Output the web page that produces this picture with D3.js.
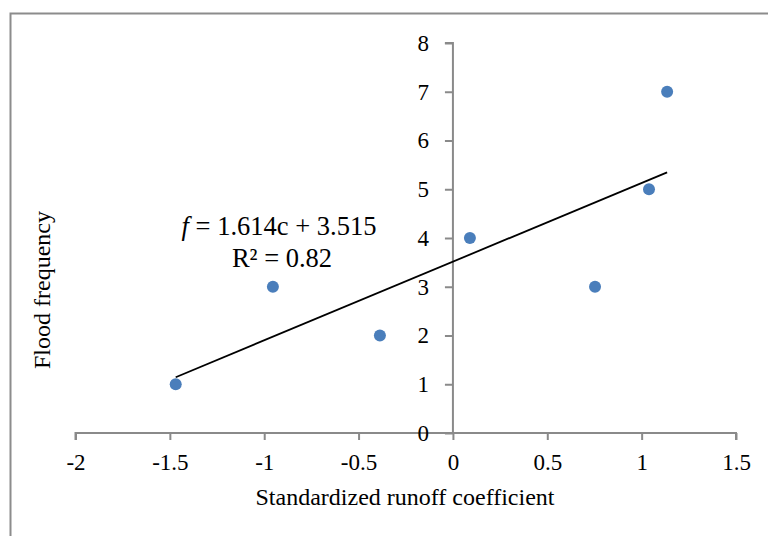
<!DOCTYPE html>
<html lang="en">
<head>
    <meta charset="UTF-8">
    <title>Flood frequency</title>
    <style>
        body { margin: 0; padding: 0; background: #fff; }
        svg { display: block; font-family: "Liberation Serif", "Times New Roman", serif; }
    </style>
</head>
<body>
    <script src="https://d3js.org/d3.v7.min.js"></script>
    <script>
        // data
        const runoff = [-1.469, -0.954, -0.387, 0.090, 0.753, 1.039, 1.135];
        const floods = [1, 3, 2, 4, 3, 5, 7];
        const xTicks = [-2, -1.5, -1, -0.5, 0, 0.5, 1, 1.5];
        const yTicks = [0, 1, 2, 3, 4, 5, 6, 7, 8];
        const slope = 1.614, intercept = 3.515;
        const r2 = 0.82;

        const width = 768, height = 536;
        const svg = d3.select('body').append('svg')
            .attr('width', width)
            .attr('height', height);

        // outer chart frame (right/bottom edges fall outside the picture)
        svg.append('rect')
            .attr('x', 10.5).attr('y', 13.5)
            .attr('width', 800).attr('height', 600)
            .attr('fill', 'none')
            .attr('stroke', '#8c8c8c')
            .attr('stroke-width', 2);

        const x = d3.scaleLinear().domain([-2, 1.5]).range([75.5, 736]);
        const y = d3.scaleLinear().domain([0, 8]).range([433, 43]);

        const axisColor = '#8a8a8a';

        // x axis sits at f = 0
        const gx = svg.append('g')
            .attr('transform', `translate(0,${y(0)})`)
            .call(d3.axisBottom(x).tickValues(xTicks).tickSize(7).tickPadding(14).tickFormat(d => d));
        // y axis sits at c = 0
        const gy = svg.append('g')
            .attr('transform', `translate(${x(0)},0)`)
            .call(d3.axisLeft(y).tickValues(yTicks).tickSize(8).tickPadding(16).tickFormat(d => d));

        [gx, gy].forEach(g => {
            g.select('.domain').attr('stroke', axisColor).attr('stroke-width', 2);
            g.selectAll('.tick line').attr('stroke', axisColor).attr('stroke-width', 2);
            g.selectAll('.tick text')
                .attr('fill', '#000')
                .style('font-family', '"Liberation Serif", serif')
                .style('font-size', '23px');
        });
        gx.select('.domain').attr('d', `M${x(-2)},7V0H${x(1.5)}V7`);
        gy.select('.domain').attr('d', `M0,${y(0)}V${y(8)}H-8`);

        // trend line
        const cExt = d3.extent(runoff);
        svg.append('line')
            .attr('x1', x(cExt[0])).attr('y1', y(slope * cExt[0] + intercept))
            .attr('x2', x(cExt[1])).attr('y2', y(slope * cExt[1] + intercept))
            .attr('stroke', '#000')
            .attr('stroke-width', 1.8);

        // points
        svg.append('g').selectAll('circle')
            .data(runoff)
            .join('circle')
            .attr('cx', d => x(d))
            .attr('cy', (d, i) => y(floods[i]))
            .attr('r', 6)
            .attr('fill', '#4a7ebb');

        // equation label
        const eq = svg.append('text')
            .attr('x', 279).attr('y', 235)
            .attr('text-anchor', 'middle')
            .style('font-size', '26.5px');
        eq.append('tspan').style('font-style', 'italic').text('f');
        eq.append('tspan').text(` = ${slope}c + ${intercept}`);
        svg.append('text')
            .attr('x', 282).attr('y', 267)
            .attr('text-anchor', 'middle')
            .style('font-size', '26.5px')
            .text(`R² = ${r2}`);

        // axis titles
        svg.append('text')
            .attr('x', 405).attr('y', 505)
            .attr('text-anchor', 'middle')
            .style('font-size', '24px')
            .text('Standardized runoff coefficient');
        svg.append('text')
            .attr('transform', 'translate(50,290) rotate(-90)')
            .attr('text-anchor', 'middle')
            .style('font-size', '24px')
            .text('Flood frequency');
    </script>
</body>
</html>
